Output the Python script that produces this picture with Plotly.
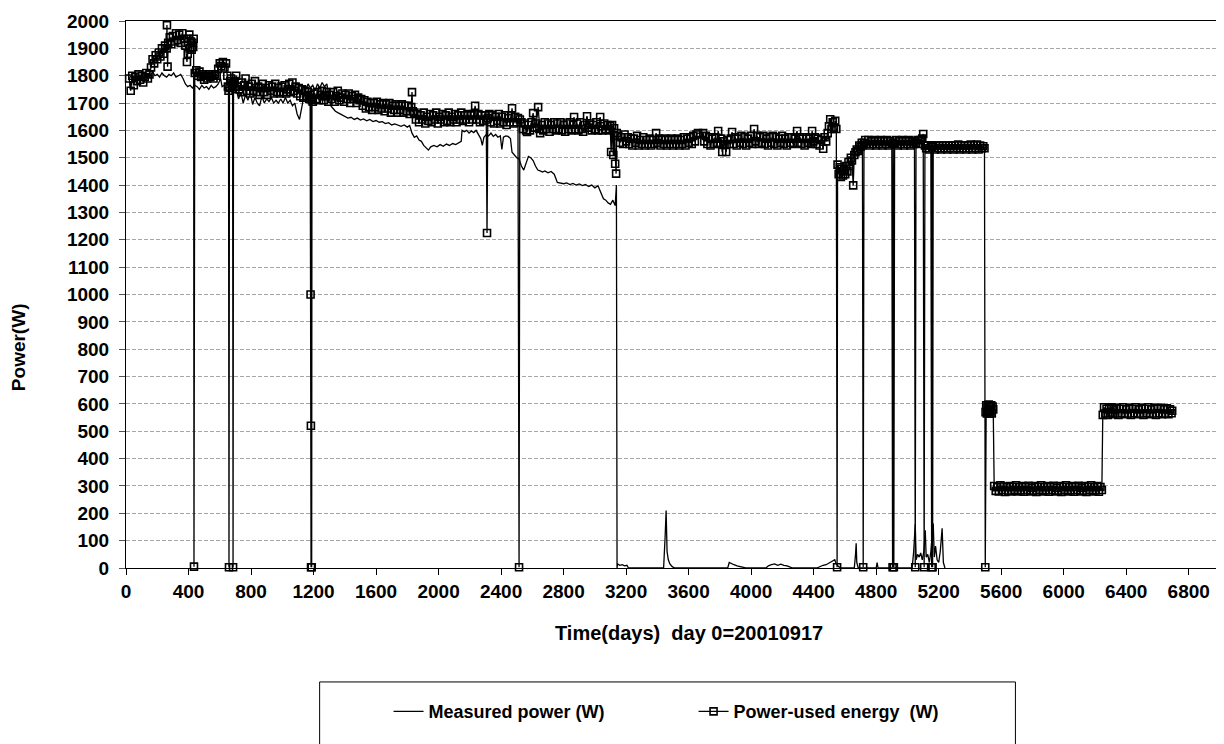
import plotly.graph_objects as go

# ---------------- data ----------------
meas_days = [20,35,50,65,80,95,110,125,140,155,170,185,200,215,230,245,260,275,290,305,320,335,350,365,380,395,
             410,425,440,455,470,485,500,515,530,545,560,575,590,605,615,630,645,660,675,690,705,720,735,750,765,
             780,795,810,825,840,855,870,885,900,915,930,945,960,975,990,1005,1020,1035,1050,1065,1080,1095,1110,
             1120,1130,1135,1150,1165,1180,1195,1210,1225,1240,1255,1270,1285,1300,1310,1325,1340,1355,1370,1385,
             1400,1420,1440,1460,1480,1500,1520,1540,1560,1580,1600,1620,1640,1660,1680,1700,1720,1740,1760,1780,
             1800,1815,1830,1845,1860,1875,1890,1905,1920,1935,1950,1970,1990,2010,2030,2050,2070,2090,2110,2130,
             2145,2150,2165,2180,2195,2210,2225,2240,2255,2270,2280,2290,2305,2320,2335,2350,2365,2380,2395,2405,
             2415,2430,2445,2460,2470,2485,2500,2515,2530,2545,2560,2575,2590,2605,2620,2635,2650,2665,2680,2700,
             2720,2740,2760,2780,2800,2820,2840,2860,2880,2900,2920,2940,2960,2980,3000,3020,3040,3055,3070,3085,
             3100,3115,3130,3138,3142,3145,3160,3175,3190,3205,3215,3300,3400,3440,3450,3456,3462,3470,3480,3495,
             3510,3850,3860,3875,3890,3910,3930,3950,3965,4095,4110,4130,4150,4170,4190,4210,4230,4250,4265,4420,
             4440,4460,4480,4500,4520,4535,4545,4560,4575,4660,4668,4672,4676,4685,4800,4806,4812,5030,5040,5050,
             5056,5065,5075,5085,5095,5105,5114,5120,5130,5140,5150,5165,5172,5180,5190,5200,5210,5222,5230,5240]
meas_power = [1790,1800,1795,1805,1790,1800,1810,1795,1805,1800,1815,1800,1805,1795,1810,1800,1795,1805,1800,1810,
              1795,1800,1805,1790,1770,1760,1765,1755,1765,1760,1750,1765,1755,1760,1750,1765,1755,1760,1770,1790,
              1760,1765,1745,1740,1760,1735,1750,1715,1740,1700,1730,1710,1740,1695,1720,1700,1690,1725,1700,1715,
              1705,1720,1700,1710,1700,1715,1700,1720,1700,1710,1690,1700,1660,1640,1670,1700,1765,1750,1770,1755,
              1765,1745,1770,1755,1775,1760,1770,1720,1690,1680,1670,1665,1660,1655,1650,1645,1648,1640,1645,1638,
              1642,1635,1640,1632,1636,1630,1632,1625,1628,1620,1624,1618,1615,1620,1612,1618,1590,1575,1580,1565,
              1560,1545,1535,1528,1540,1545,1540,1548,1542,1550,1545,1552,1548,1555,1560,1600,1595,1600,1590,1598,
              1592,1600,1585,1570,1545,1575,1585,1580,1590,1578,1585,1575,1580,1530,1575,1580,1578,1570,1520,1510,
              1500,1495,1470,1455,1480,1505,1500,1490,1470,1455,1452,1448,1452,1445,1450,1440,1410,1408,1405,1408,
              1402,1406,1400,1404,1398,1402,1395,1400,1390,1398,1370,1350,1345,1335,1330,1345,1325,1400,0,15,
              10,12,8,10,0,0,0,0,120,210,60,30,15,5,0,0,20,15,12,8,6,3,0,0,8,12,15,10,14,10,8,3,0,0,5,10,12,18,25,
              30,15,5,0,0,50,90,20,0,0,20,0,0,60,160,30,50,40,55,30,60,138,40,50,20,60,163,40,80,30,20,60,145,20,0]

used_days = [
    20,30,40,50,60,70,80,90,100,110,120,130,140,150,
    160,170,180,190,200,210,220,230,240,250,
    260,262,266,270,280,290,300,310,320,330,
    340,350,360,370,380,390,395,400,405,410,
    415,420,425,430,433,435,
    440,450,460,470,480,490,500,510,520,530,
    540,550,560,570,580,590,600,610,620,630,
    640,648,652,656,659,662,667,672,677,682,685,688,
    695,705,715,725,735,745,755,765,775,785,
    795,805,815,825,835,845,855,865,875,885,
    895,905,915,925,935,945,955,965,975,985,
    995,1005,1015,1025,1035,1045,1055,1065,1075,1085,
    1095,1105,1115,1125,1135,1145,1155,1165,1172,1178,
    1181,1183,1184,1186,1188,1190,
    1195,1205,1215,1225,1235,1245,1255,1265,1275,1285,
    1295,1305,1315,1325,1335,1345,1355,1365,1375,1385,
    1395,1405,1415,1425,1435,1445,1455,1465,1475,1485,
    1495,
    1505,1515,1525,1535,1545,1555,1565,1575,1585,1595,
    1605,1615,1625,1635,1645,1655,1665,1675,1685,1695,
    1705,1715,1725,1735,1745,1755,1765,1775,1785,1795,
    1805,1815,1825,1830,1835,
    1845,1855,1865,1875,1885,1895,1905,1915,1925,1935,
    1945,1955,1965,1975,1985,1995,2005,2015,2025,2035,
    2045,2055,2065,2075,2085,2095,2105,2115,2125,2135,
    2145,2155,2165,2175,2185,2195,2205,2215,2225,2234,
    2245,2255,2265,2275,2285,2295,2305,2310,2315,
    2325,2335,2345,2355,2365,2375,2385,2395,2405,2415,
    2425,2435,2445,2455,2465,2470,2480,2490,2500,2508,2515,2520,
    2530,2540,2550,2560,2566,2575,2585,2595,2605,2615,
    2625,2637,2645,2650,2660,2670,2680,2690,2700,2710,
    2720,2730,2740,2750,2760,2770,2780,2790,2800,2810,
    2820,2830,2840,2850,2860,2867,2875,2885,2895,2905,
    2915,2925,2935,2950,2960,2970,2980,2990,3000,3010,
    3020,3034,3040,3050,3060,3070,3080,3090,3098,
    3104,3110,3118,3123,3130,3136,3140,
    3150,3160,3170,3180,3190,3200,3210,3220,3230,3240,
    3250,3260,3270,3280,3290,3300,3310,3320,3330,3340,
    3350,3360,3370,3380,3392,3400,3410,3420,3430,3440,
    3450,3460,3470,3480,3490,3500,3510,3520,3530,3540,
    3550,3560,3570,3580,3590,3600,3610,3620,3630,3640,
    3650,3660,
    3693,3700,3710,3720,3730,3740,3750,3760,3770,3780,
    3789,3800,3808,3815,3822,3830,3840,3848,3860,3870,
    3878,3888,3898,3908,3918,3928,3938,3948,3958,3968,
    3978,3988,3998,4008,4019,4028,4038,4048,4058,4068,
    4078,4088,4098,4108,4118,4128,4138,4148,4158,4168,
    4178,4188,4198,4208,4218,4228,4238,4248,4258,4268,
    4278,4294,4302,4312,4322,4332,4342,4352,4362,4372,
    4382,4390,4398,4408,4418,4428,4438,4448,4461,4470,
    4480,4490,4498,4506,4514,4522,4530,4538,4545,4550,
    4553,4560,4567,4574,4581,4588,4595,4602,4609,4616,
    4623,4630,4638,4645,4653,4660,4668,4676,4684,4692,
    4700,4708,4712,4717,
    4722,4730,4740,4750,4760,4770,4780,4790,4800,4810,
    4820,4830,4840,4850,4860,4870,4880,4890,4900,4905,4909,4913,4918,
    4928,4938,4948,4958,4968,4978,4988,4998,5008,5018,
    5028,5038,5045,5050,5055,5065,5075,5085,5095,5101,5107,
    5112,5120,5130,5140,5150,5155,5158,5161,5165,
    5175,5185,5195,5205,5215,5225,5235,5245,5255,5265,
    5275,5285,5295,5305,5315,5325,5335,5345,5355,5365,
    5375,5385,5395,5405,5415,5425,5435,5445,5455,5465,
    5475,5485,5493,5498,
    5500,5504,5508,5512,5516,5520,5524,5528,5532,5536,5540,5545,5549,
    5555,5565,5575,5585,5595,5605,5615,5625,5635,5645,
    5655,5665,5675,5685,5695,5705,5715,5725,5735,5745,
    5755,5765,5775,5785,5795,5805,5815,5825,5835,5845,
    5855,5865,5875,5885,5895,5905,5915,5925,5935,5945,
    5955,5965,5975,5985,5995,6005,6015,6025,6035,6045,
    6055,6065,6075,6085,6095,6105,6115,6125,6135,6145,
    6155,6165,6175,6185,6195,6205,6215,6225,6235,6244,
    6250,6258,6266,6274,6282,6290,6298,6306,6314,6322,
    6330,6340,6350,6360,6370,6380,6390,6400,6410,6420,
    6430,6440,6450,6460,6470,6480,6490,6500,6510,6520,
    6530,6540,6550,6560,6570,6580,6590,6600,6610,6620,
    6630,6640,6650,6660,6670,6680,6690,6694]
used_power = [
    1790,1745,1800,1765,1795,1780,1805,1785,1800,1775,1795,1810,1790,1805,
    1830,1860,1845,1875,1860,1885,1870,1900,1880,1910,
    1900,1985,1833,1920,1940,1915,1945,1925,1955,1930,
    1950,1920,1955,1935,1910,1850,1880,1935,1950,1900,
    1925,1895,1920,1905,1935,5,
    1810,1820,1800,1815,1795,1805,1785,1800,1790,1805,
    1795,1800,1790,1805,1800,1825,1845,1835,1850,1830,
    1845,1800,1760,1745,3,1755,1780,1790,1765,1770,3,1760,
    1780,1800,1760,1750,1775,1740,1765,1790,1745,1760,
    1735,1770,1745,1780,1740,1760,1730,1755,1770,1740,
    1755,1730,1765,1745,1760,1735,1770,1740,1755,1735,
    1760,1740,1765,1735,1750,1770,1740,1775,1745,1760,
    1735,1755,1725,1750,1720,1745,1725,1740,1715,1730,
    1000,520,3,1720,3,1710,
    1705,1735,1715,1740,1710,1730,1745,1710,1725,1740,
    1705,1730,1715,1740,1705,1725,1745,1710,1720,1735,
    1705,1730,1715,1735,1700,1725,1715,1730,1700,1720,
    1710,
    1715,1690,1710,1680,1705,1685,1700,1675,1700,1685,
    1705,1675,1695,1680,1700,1670,1695,1680,1700,1665,
    1690,1675,1695,1665,1690,1675,1695,1665,1690,1670,
    1690,1660,1685,1740,1670,
    1665,1640,1660,1630,1655,1640,1665,1625,1650,1635,
    1660,1630,1655,1640,1665,1625,1650,1640,1660,1630,
    1655,1635,1665,1630,1650,1640,1660,1630,1655,1640,
    1665,1635,1655,1640,1660,1630,1655,1640,1660,1690,
    1640,1660,1630,1655,1635,1655,1640,1225,1645,
    1660,1630,1655,1625,1650,1635,1660,1625,1650,1630,
    1655,1620,1645,1630,1655,1681,1625,1650,1630,1645,3,1640,
    1630,1605,1625,1600,1594,1620,1600,1630,1663,1610,
    1625,1685,1605,1590,1620,1600,1630,1605,1625,1595,
    1620,1605,1630,1600,1625,1605,1630,1600,1620,1595,
    1625,1605,1630,1600,1620,1649,1605,1625,1600,1630,
    1605,1595,1620,1652,1610,1625,1600,1620,1605,1630,
    1600,1649,1615,1600,1625,1605,1620,1600,1615,
    1521,1620,1510,1608,1478,1442,1590,
    1580,1555,1575,1550,1585,1560,1575,1550,1570,1545,
    1570,1555,1580,1545,1565,1550,1575,1545,1565,1550,
    1570,1545,1565,1550,1590,1555,1570,1545,1565,1550,
    1570,1545,1565,1550,1570,1545,1565,1550,1570,1545,
    1565,1550,1575,1545,1570,1555,1575,1550,1580,1560,
    1585,1590,
    1590,1560,1580,1550,1575,1545,1570,1550,1575,1555,
    1598,1550,1570,1521,1560,1550,1521,1565,1550,1570,
    1594,1550,1575,1545,1570,1555,1580,1550,1575,1545,
    1570,1555,1580,1550,1605,1560,1580,1550,1575,1555,
    1580,1550,1570,1545,1575,1555,1580,1550,1575,1545,
    1570,1555,1580,1550,1570,1545,1575,1555,1575,1550,
    1570,1598,1555,1575,1550,1570,1545,1575,1555,1570,
    1550,1598,1560,1575,1550,1570,1545,1565,1533,1575,
    1560,1590,1615,1641,1605,1630,1610,1635,1605,3,
    1475,1440,1465,1430,1460,1435,1455,1440,1470,1450,
    1485,1470,1500,1490,1399,1510,1520,1530,1525,1545,
    1540,1555,1545,3,
    1555,1565,1550,1565,1545,1560,1550,1565,1545,1560,
    1550,1565,1545,1560,1550,1565,1545,1560,1550,3,1555,3,1550,
    1565,1545,1560,1550,1565,1545,1560,1550,1565,1545,
    1560,1550,1560,3,1555,1565,1550,1565,1570,1587,3,
    1545,1535,1545,1530,1545,3,1540,3,1545,
    1530,1545,1535,1545,1530,1545,1535,1545,1530,1545,
    1535,1545,1530,1545,1535,1548,1530,1545,1535,1545,
    1530,1545,1535,1548,1530,1545,1535,1548,1530,1545,
    1535,1542,1535,3,
    570,595,565,590,575,598,565,590,570,595,565,590,580,
    300,282,295,280,302,285,298,278,295,283,
    300,280,296,285,302,280,295,284,300,279,
    296,285,301,280,294,283,300,278,296,285,
    302,280,295,284,300,279,296,285,301,280,
    294,283,300,278,296,285,302,280,295,284,
    300,279,296,285,301,280,294,283,300,278,
    296,285,302,280,295,284,300,279,296,285,
    560,588,565,582,560,585,568,588,562,580,
    565,586,560,582,566,588,562,580,565,586,
    560,582,566,588,562,580,565,586,560,582,
    566,588,562,580,565,586,560,582,566,586,
    562,580,565,584,562,580,566,575]

assert len(used_days) == len(used_power)
assert len(meas_days) == len(meas_power)

y_ticks = list(range(0, 2001, 100))
x_ticks = list(range(0, 6801, 400))

FONT = "Liberation Sans, Arial, sans-serif"

fig = go.Figure()
fig.add_trace(go.Scatter(
    x=meas_days, y=meas_power, mode="lines", name="Measured power (W)",
    line=dict(color="black", width=1.3), cliponaxis=False))
fig.add_trace(go.Scatter(
    x=used_days, y=used_power, mode="lines+markers", name="Power-used energy  (W)",
    line=dict(color="black", width=1.3),
    marker=dict(symbol="square-open", size=7, color="black", line=dict(color="black", width=1.6)),
    cliponaxis=False))

fig.update_layout(
    width=1216, height=736,
    margin=dict(l=118, r=3, t=8, b=176),
    paper_bgcolor="white", plot_bgcolor="white",
    showlegend=True,
    legend=dict(orientation="h", x=0.240, xanchor="left", y=-0.2627, yanchor="middle",
                font=dict(family=FONT, size=18, color="black", weight="bold"),
                entrywidth=260, entrywidthmode="pixels",
                bgcolor="rgba(0,0,0,0)", borderwidth=0),
    xaxis=dict(range=[0, 7000], tickvals=x_ticks, ticktext=[str(v) for v in x_ticks],
               showgrid=False, zeroline=False,
               showline=True, linecolor="black", linewidth=1, mirror=True,
               ticks="outside", ticklen=6, tickcolor="black",
               ticklabeloverflow="allow",
               tickfont=dict(family=FONT, size=19, color="black", weight="bold")),
    yaxis=dict(range=[0, 2000], tickvals=y_ticks, ticktext=[str(v) for v in y_ticks],
               showgrid=True, gridcolor="#a6a6a6", gridwidth=1, griddash="4px,2px",
               zeroline=False,
               showline=True, linecolor="black", linewidth=1, mirror=True,
               ticks="outside", ticklen=6, tickcolor="#555555",
               ticklabelstandoff=6, ticklabeloverflow="allow",
               tickfont=dict(family=FONT, size=19, color="black", weight="bold")),
    shapes=[dict(type="rect", xref="paper", yref="paper",
                 x0=0.177, x1=0.813, y0=-0.36, y1=-0.2083,
                 line=dict(color="black", width=1), fillcolor="rgba(0,0,0,0)", layer="below")],
    annotations=[
        dict(text="Time(days)  day 0=20010917", xref="paper", yref="paper",
             x=0.515, y=-0.118, xanchor="center", yanchor="middle", showarrow=False,
             font=dict(family=FONT, size=20, color="black", weight="bold")),
        dict(text="Power(W)", xref="paper", yref="paper", textangle=-90,
             x=-0.0986, y=0.404, xanchor="center", yanchor="middle", showarrow=False,
             font=dict(family=FONT, size=19, color="black", weight="bold")),
    ],
)

fig.write_html("out.html")
